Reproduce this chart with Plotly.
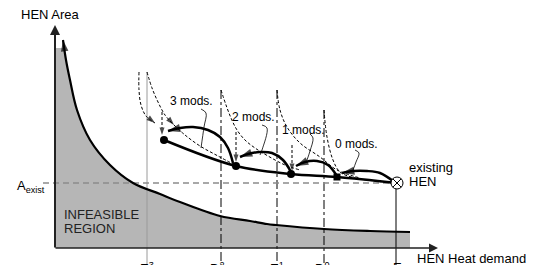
import plotly.graph_objects as go

FONT = "Liberation Sans, Arial, sans-serif"

# ---- data (chart units: x = heat demand, y = HEN area) ----
bound_x = [8, 11, 15, 22, 35, 55, 78, 105, 125, 165, 195, 212, 221, 269, 315, 355]
bound_y = [208, 188, 168, 138, 108, 83, 65, 54, 46, 32, 27, 24, 23, 19, 17, 16]
shade_cap = 200

vline_x = [92, 166, 222, 269, 341]
vline_top = [176, 158, 158, 138, 60]
vline_lbl_x = [92, 162, 222, 267, 342]
vline_labels = ["E<sup>3</sup>", "D<sup>2</sup>", "E<sup>1</sup>", "D<sup>0</sup>", "E"]

a_exist = 65

path_x = [109, 181, 236, 282, 342]
path_y = [108, 82, 74, 71, 65]

arc3_x = [178, 173, 165, 153, 138, 125, 113]
arc3_y = [85, 100, 111, 118, 121, 120, 117]
arc2_x = [236, 228, 217, 205, 193, 185]
arc2_y = [76, 88, 95, 96, 94, 91]
arc1_x = [282, 273, 262, 250, 241]
arc1_y = [72, 83, 87, 86, 82]
arc0_x = [338, 325, 312, 298, 287]
arc0_y = [67, 75, 77, 77, 75]

left3_x = [84, 84, 86, 91, 100]
left3_y = [176, 158, 143, 132, 125]
dec3a_x = [92, 97, 103, 110, 119]
dec3a_y = [176, 160, 146, 133, 123]
dec3b_x = [119, 130, 145, 163, 180]
dec3b_y = [123, 113, 102, 92, 83]
dec2_x = [166, 171, 176, 182, 190, 200, 213, 230, 245]
dec2_y = [158, 143, 130, 118, 108, 100, 92, 83, 78]
dec1_x = [222, 225, 232, 245, 265, 282, 305]
dec1_y = [158, 138, 121, 105, 91, 78, 70]
dec0_x = [269, 272, 278, 285, 300, 320, 338]
dec0_y = [138, 111, 88, 76, 70, 67, 65]

vdrop_x = [107, 181, 237]
vdrop_top = [136, 116, 103]
vdrop_bot = [113, 86, 77]

mods_text = ["3 mods.", "2 mods.", "1 mods.", "0 mods."]
mods_x = [136, 198, 248, 301]
mods_y = [147, 131, 118, 104]
lead3_x = [146, 151, 149, 146]
lead3_y = [139, 135, 121, 100]
lead2_x = [207, 212, 207, 205]
lead2_y = [123, 120, 98, 93]
lead1_x = [255, 258, 255, 252]
lead1_y = [114, 110, 97, 88]
lead0_x = [300, 304, 301, 298]
lead0_y = [98, 95, 86, 78]

x_axis_end = 383
y_axis_end = 223

fig = go.Figure()

# shaded infeasible region
sx = [0, 0] + bound_x + [bound_x[-1]]
sy = [0, shade_cap] + [min(v, shade_cap) for v in bound_y] + [0]
fig.add_trace(go.Scatter(x=sx, y=sy, mode="lines", fill="toself",
                         fillcolor="#b6b6b6", line=dict(width=0), hoverinfo="skip"))


def line(xs, ys, width=1.0, color="black", dash="solid", arrow=0, shape="spline"):
    n = len(xs)
    sizes = [0] * (n - 1) + [arrow]
    fig.add_trace(go.Scatter(
        x=xs, y=ys, mode="lines+markers" if arrow else "lines",
        line=dict(width=width, color=color, dash=dash, shape=shape, smoothing=1.0),
        marker=dict(symbol="arrow", size=sizes, angleref="previous", color=color,
                    line=dict(width=0)),
        hoverinfo="skip"))


# vertical lines
vstyles = [("#9a9a9a", "solid"), ("black", "dashdot"), ("black", "dashdot"),
           ("black", "dashdot"), ("black", "solid")]
for xv, top, (c, d) in zip(vline_x, vline_top, vstyles):
    line([xv, xv], [top, -20], width=1.0, color=c, dash=d, shape="linear")

# A_exist line
line([-12, 335], [a_exist, a_exist], width=1.5, color="#8c8c8c", dash="6px,4px", shape="linear")

# boundary curve with arrow at top
line(bound_x[::-1], bound_y[::-1], width=2.2, arrow=12)

# dashed curves
dsh = "3px,2px"
line(left3_x, left3_y, dash=dsh, arrow=9)
line(dec3a_x, dec3a_y, dash=dsh, arrow=9)
line(dec3b_x, dec3b_y, dash=dsh)
line(dec2_x, dec2_y, dash=dsh)
line(dec1_x, dec1_y, dash=dsh)
line(dec0_x, dec0_y, dash=dsh)
for xv, t, b in zip(vdrop_x, vdrop_top, vdrop_bot):
    line([xv, xv], [t, b], dash=dsh, arrow=8, shape="linear")

# leader lines
for lx, ly in [(lead3_x, lead3_y), (lead2_x, lead2_y), (lead1_x, lead1_y), (lead0_x, lead0_y)]:
    line(lx, ly, width=0.8)

# main path
line(path_x, path_y, width=2.5)

# bold arcs
for ax_, ay_ in [(arc3_x, arc3_y), (arc2_x, arc2_y), (arc1_x, arc1_y), (arc0_x, arc0_y)]:
    line(ax_, ay_, width=2.5, arrow=13)

# points
fig.add_trace(go.Scatter(x=path_x[:3], y=path_y[:3], mode="markers",
                         marker=dict(symbol="circle", size=8, color="black"), hoverinfo="skip"))
fig.add_trace(go.Scatter(x=[path_x[3]], y=[path_y[3]], mode="markers",
                         marker=dict(symbol="square", size=7, color="black"), hoverinfo="skip"))
fig.add_trace(go.Scatter(x=[path_x[4]], y=[path_y[4]], mode="markers",
                         marker=dict(symbol="circle-x", size=12, color="white",
                                     line=dict(color="black", width=1)), hoverinfo="skip"))

ann = []
# axes arrows
ann.append(dict(x=0, y=y_axis_end, ax=0, ay=-1, xref="x", yref="y", axref="x", ayref="y",
                text="", showarrow=True, arrowhead=2, arrowsize=1, arrowwidth=2, arrowcolor="#222"))
ann.append(dict(x=x_axis_end, y=0, ax=-1, ay=0, xref="x", yref="y", axref="x", ayref="y",
                text="", showarrow=True, arrowhead=2, arrowsize=1.2, arrowwidth=1.5, arrowcolor="#222"))

def txt(x, y, s, size=13, xanchor="left", yanchor="middle", color="black"):
    ann.append(dict(x=x, y=y, xref="x", yref="y", text=s, showarrow=False,
                    xanchor=xanchor, yanchor=yanchor,
                    font=dict(family=FONT, size=size, color=color)))

txt(-36, 234, "HEN Area")
txt(360, -10, "HEN Heat demand")
txt(-40, 62, "A<sub>exist</sub>")
txt(7, 34, "INFEASIBLE", color="#222")
txt(7, 20, "REGION", color="#222")
txt(352, 81, "existing")
txt(352, 67, "HEN")
for s, x, y in zip(mods_text, mods_x, mods_y):
    txt(x, y, s, size=12, xanchor="center")
for s, x in zip(vline_labels, vline_lbl_x):
    txt(x, -10, s, size=13, xanchor="center", yanchor="top")

fig.update_layout(
    width=536, height=265, margin=dict(l=0, r=0, t=0, b=0),
    paper_bgcolor="white", plot_bgcolor="white", showlegend=False,
    xaxis=dict(range=[-55, 481], visible=False, fixedrange=True),
    yaxis=dict(range=[-17, 248], visible=False, fixedrange=True),
    annotations=ann,
)
fig.write_html("out.html", config={"displayModeBar": False},
               post_script="document.body.style.margin='0';document.body.style.overflow='hidden';")
